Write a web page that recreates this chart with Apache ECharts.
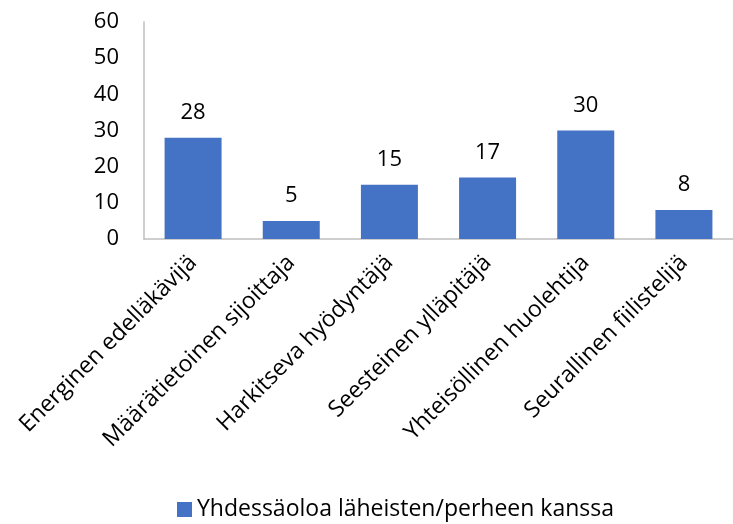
<!DOCTYPE html>
<html>
<head>
<meta charset="utf-8">
<script src="https://cdn.jsdelivr.net/npm/echarts@6/dist/echarts.min.js"></script>
<style>
  html, body { margin: 0; padding: 0; background: #fff; }
  #chart { width: 733px; height: 524px; }
</style>
</head>
<body>
<div id="chart"></div>
<script>
const categories = [
  'Energinen edelläkävijä',
  'Määrätietoinen sijoittaja',
  'Harkitseva hyödyntäjä',
  'Seesteinen ylläpitäjä',
  'Yhteisöllinen huolehtija',
  'Seurallinen fiilistelijä'
];
const seriesName = 'Yhdessäoloa läheisten/perheen kanssa';
const values = [28, 5, 15, 17, 30, 8];

const font = 'Open Sans, Noto Sans, sans-serif';
const chart = echarts.init(document.getElementById('chart'));
chart.setOption({
  animation: false,
  textStyle: { fontFamily: font },
  grid: { left: 144, top: 22, width: 595, height: 217, containLabel: false },
  legend: {
    bottom: -2,
    left: 172,
    itemWidth: 15,
    itemHeight: 15,
    itemGap: 7,
    icon: 'rect',
    textStyle: { fontSize: 23, color: '#000', fontFamily: font },
    data: [seriesName]
  },
  xAxis: {
    type: 'category',
    data: categories,
    axisLine: { lineStyle: { color: '#bfbfbf', width: 1.5 } },
    axisTick: { show: false },
    axisLabel: { rotate: 45, fontSize: 23, color: '#000', margin: 20, interval: 0 }
  },
  yAxis: {
    type: 'value',
    min: 0,
    max: 60,
    interval: 10,
    splitLine: { show: false },
    axisLine: { show: true, lineStyle: { color: '#bfbfbf', width: 1.5 } },
    axisTick: { show: false },
    axisLabel: { fontSize: 22, color: '#000', margin: 25 }
  },
  series: [{
    name: seriesName,
    type: 'bar',
    data: values,
    barWidth: 57,
    itemStyle: { color: '#4472C4' },
    label: { show: true, position: 'top', distance: 14, fontSize: 22, color: '#000' }
  }]
});
</script>
</body>
</html>
